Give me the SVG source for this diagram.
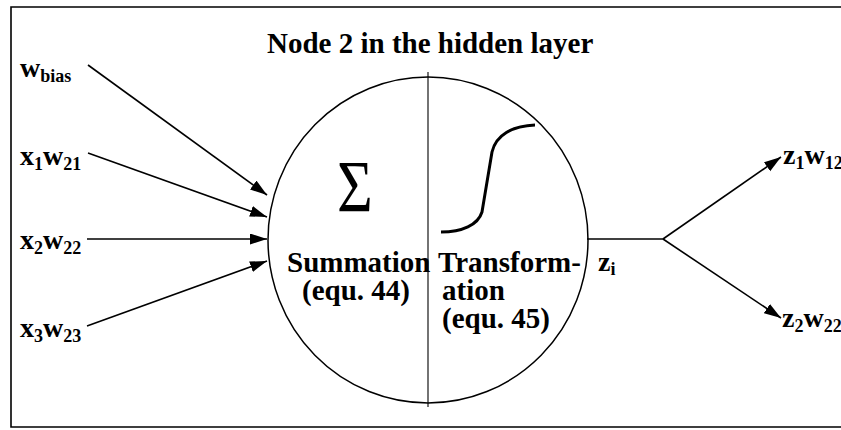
<svg xmlns="http://www.w3.org/2000/svg" width="841" height="430" viewBox="0 0 841 430">
<defs>
<style>
text{font-family:"Liberation Serif","Times New Roman",serif;fill:#000}
.t{font-weight:bold;font-size:29px}
.lab{font-weight:bold;font-size:28px}
.sub{font-size:18px}
.ln{stroke:#000;stroke-width:1.6;fill:none}
</style>
<marker id="ah" markerUnits="userSpaceOnUse" markerWidth="18" markerHeight="12" refX="17" refY="5.5" orient="auto">
<path d="M0,0 L17,5.5 L0,11 Z" fill="#000"/>
</marker>
</defs>
<rect width="841" height="430" fill="#fff"/>
<path d="M850,7 H11 V427 H850" fill="none" stroke="#000" stroke-width="1.6"/>
<g id="title"><text class="t" x="267" y="53">Node 2 in the hidden layer</text></g>
<g id="node2">
<ellipse cx="428" cy="240" rx="160" ry="163" fill="none" stroke="#000" stroke-width="1.5"/>
<line x1="428" y1="72" x2="428" y2="407" stroke="#000" stroke-width="1.1"/>
<text transform="translate(337,212) scale(0.82,1)" font-size="75">Σ</text>
<path d="M441,232 C462,232 478,225 482,212 L492,152 C496,135 512,126 535,125" fill="none" stroke="#000" stroke-width="3"/>
<text class="t" x="287" y="272">Summation</text>
<text class="t" x="302" y="300">(equ. 44)</text>
<text class="t" x="438" y="272">Transform-</text>
<text class="t" x="442" y="300">ation</text>
<text class="t" x="442" y="328">(equ. 45)</text>
</g>
<g id="in-bias"><text class="lab" x="20" y="77">w<tspan class="sub" dy="5">bias</tspan></text></g>
<g id="in-x1"><text class="lab" x="20" y="165">x<tspan class="sub" dy="5">1</tspan><tspan dy="-5">w</tspan><tspan class="sub" dy="5">21</tspan></text></g>
<g id="in-x2"><text class="lab" x="20" y="249">x<tspan class="sub" dy="5">2</tspan><tspan dy="-5">w</tspan><tspan class="sub" dy="5">22</tspan></text></g>
<g id="in-x3"><text class="lab" x="20" y="337">x<tspan class="sub" dy="5">3</tspan><tspan dy="-5">w</tspan><tspan class="sub" dy="5">23</tspan></text></g>
<g id="out-zi"><text class="lab" x="598" y="271">z<tspan class="sub" dy="4">i</tspan></text></g>
<g id="out-1"><text class="lab" x="783" y="164">z<tspan class="sub" dy="5">1</tspan><tspan dy="-5">w</tspan><tspan class="sub" dy="5">12</tspan></text></g>
<g id="out-2"><text class="lab" x="782" y="327">z<tspan class="sub" dy="5">2</tspan><tspan dy="-5">w</tspan><tspan class="sub" dy="5">22</tspan></text></g>
<g id="connectors">
<line class="ln" x1="88" y1="65" x2="267" y2="195" marker-end="url(#ah)"/>
<line class="ln" x1="88" y1="153" x2="267" y2="217" marker-end="url(#ah)"/>
<line class="ln" x1="87" y1="239" x2="267" y2="239" marker-end="url(#ah)"/>
<line class="ln" x1="87" y1="326" x2="267" y2="261" marker-end="url(#ah)"/>
<polyline class="ln" points="587,239 663,239"/>
<line class="ln" x1="663" y1="239" x2="781" y2="157" marker-end="url(#ah)"/>
<line class="ln" x1="663" y1="239" x2="781" y2="318" marker-end="url(#ah)"/>
</g>
</svg>
